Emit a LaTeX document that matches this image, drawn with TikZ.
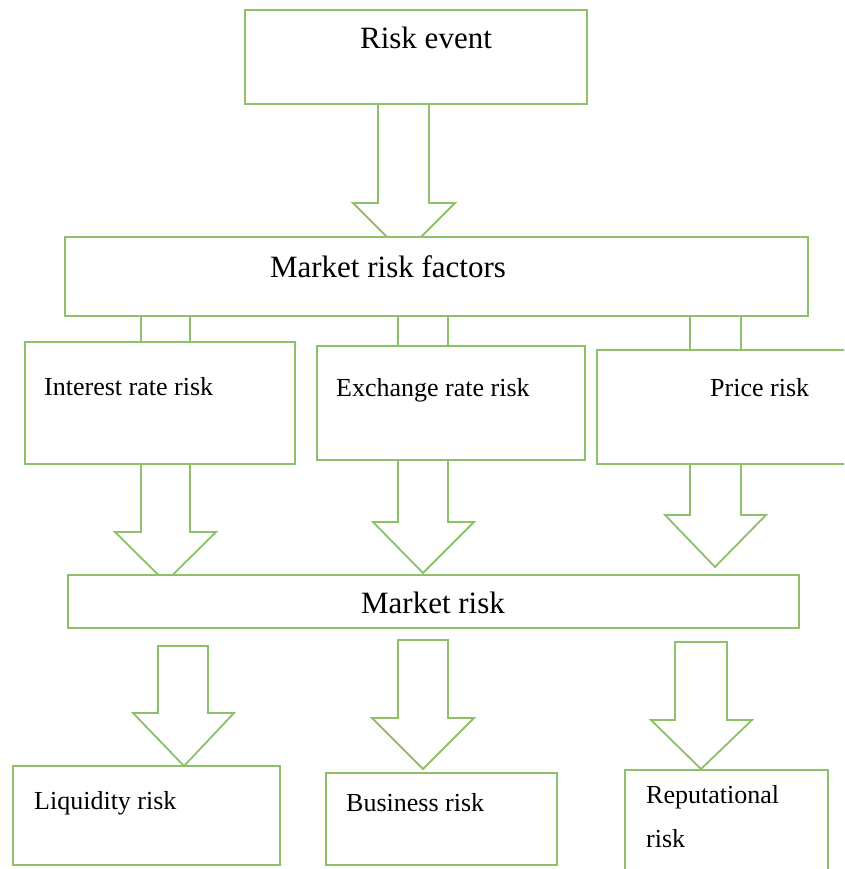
\documentclass[tikz,border=0pt]{standalone}
\usepackage{fontspec}
\setmainfont{Liberation Serif}
\definecolor{boxgreen}{RGB}{141,192,104}
\newcommand{\bkarrow}[8]{%
  \draw[blk] (#1,#3) -- (#1,#4) -- (#5,#4) -- (#7,#8) -- (#6,#4) -- (#2,#4) -- (#2,#3) -- cycle;}
\newcommand{\mkbox}[5]{%
  \node[box,anchor=north west,minimum width=#4pt-#2pt,minimum height=#5pt-#3pt] (#1) at (#2,#3) {};}
\begin{document}
\begin{tikzpicture}[x=1pt,y=-1pt,
  box/.style={draw=boxgreen,line width=2.4pt,fill=white,inner sep=0pt,outer sep=0pt,rectangle},
  blk/.style={draw=boxgreen,line width=1.8pt,fill=white,line join=miter},
  big/.style={inner sep=0pt,font=\fontsize{31}{36}\selectfont},
  small/.style={inner sep=0pt,font=\fontsize{26}{31}\selectfont}]
\useasboundingbox (0,0) rectangle (844,869);
\clip (0,0) rectangle (844,869);
% block arrows (drawn first, boxes cover their hidden parts)
% Risk event -> Market risk factors
\bkarrow{378}{429}{100}{203}{353}{455}{404}{254}
% Market risk factors -> row boxes (shafts)
\draw[blk] (141,316) rectangle (190,350);
\draw[blk] (398,314) rectangle (448,352);
\draw[blk] (690,314) rectangle (741,356);
% row boxes -> Market risk
\bkarrow{141}{190}{460}{532}{115}{216}{165.5}{582}
\bkarrow{398}{448}{455}{522}{373}{474}{423}{573}
\bkarrow{690}{741}{460}{515}{665}{766}{715}{567}
% Market risk -> bottom boxes
\bkarrow{158}{208}{646}{713}{133}{234}{184}{766}
\bkarrow{398}{448}{640}{718}{372}{474}{423}{769}
\bkarrow{675}{727}{642}{720}{651}{752}{701}{769}
% boxes
\mkbox{ev}{245}{10}{587}{104}
\mkbox{mrf}{65}{237}{808}{316}
\mkbox{ir}{25}{342}{295}{464}
\mkbox{ex}{317}{346}{585}{460}
\mkbox{pr}{597}{350}{860}{464}
\mkbox{mr}{68}{575}{799}{628}
\mkbox{lq}{13}{766}{280}{865}
\mkbox{bs}{326}{773}{557}{865}
\mkbox{rp}{625}{770}{828}{890}
% texts
\node[big,anchor=base] (tev) at (426,49) {Risk event};
\node[big,anchor=base] (tmrf) at (388,277) {Market risk factors};
\node[small,anchor=base west] (tir) at (44,395) {Interest rate risk};
\node[small,anchor=base west] (tex) at (336,396) {Exchange rate risk};
\node[small,anchor=base west] (tpr) at (710,396) {Price risk};
\node[big,anchor=base] (tmr) at (433,613) {Market risk};
\node[small,anchor=base west] (tlq) at (34,809) {Liquidity risk};
\node[small,anchor=base west] (tbs) at (346,811) {Business risk};
\node[small,anchor=base west] (trp1) at (646,803) {Reputational};
\node[small,anchor=base west] (trp2) at (646,847) {risk};
\end{tikzpicture}
\end{document}
